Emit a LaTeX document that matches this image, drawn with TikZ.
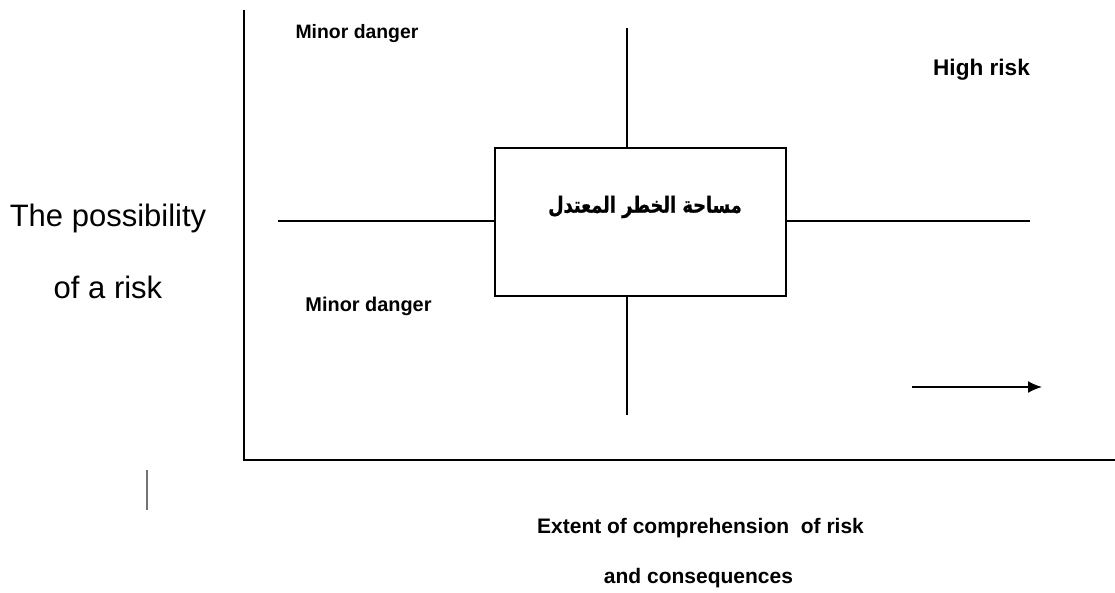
\documentclass[tikz,border=0pt]{standalone}
\usepackage{fontspec}
\usetikzlibrary{arrows.meta}
\setmainfont{Liberation Sans}
\newfontfamily\boldsans{Liberation Sans Bold}
\newfontfamily\arabicfont[Script=Arabic,FakeBold=1]{DejaVu Sans Bold}
\TeXXeTstate=1
\begin{document}
\begin{tikzpicture}[x=1pt,y=-1pt,
  ln/.style={line width=1.8pt,black},
  lbl/.style={inner sep=0pt,anchor=base},
]
\useasboundingbox (0,0) rectangle (1115,592);
% axes
\coordinate (ytop) at (244,10);
\coordinate (origin) at (244,460);
\coordinate (xend) at (1115,460);
\draw[ln] (ytop) -- (origin) -- (xend);
% box
\node[draw,line width=1.8pt,minimum width=291pt,minimum height=148pt,inner sep=0pt] (box) at (640.5,222) {};
\node[inner sep=0pt,anchor=center,font=\arabicfont\fontsize{17.8}{20}\selectfont] (ar) at (645,207) {\scalebox{1}[1.25]{\beginR مساحة الخطر المعتدل\endR}};
% cross lines
\coordinate (vt) at (627,28);
\coordinate (vb) at (627,415);
\coordinate (hl) at (278,221);
\coordinate (hr) at (1030,221);
\draw[ln] (vt) -- (vt |- box.north);
\draw[ln] (vb |- box.south) -- (vb);
\draw[ln] (hl) -- (box.west |- hl);
\draw[ln] (box.east |- hr) -- (hr);
% labels
\node[lbl,font=\boldsans\fontsize{19.4}{22}\selectfont] (md1) at (357,38) {Minor danger};
\node[lbl,font=\boldsans\fontsize{22.6}{26}\selectfont] (hr1) at (981.5,75) {High risk};
\node[lbl,font=\boldsans\fontsize{19.9}{22}\selectfont] (md2) at (368.5,311) {Minor danger};
\node[lbl,font=\fontsize{31}{36}\selectfont] (p1) at (108,226) {The possibility};
\node[lbl,font=\fontsize{31}{36}\selectfont] (p2) at (108,298) {of a risk};
\node[lbl,font=\boldsans\fontsize{21}{24}\selectfont] (e1) at (700.5,533) {Extent of comprehension\ \ of risk};
\node[lbl,font=\boldsans\fontsize{21}{24}\selectfont] (e2) at (698.5,583) {and consequences};
% arrow
\coordinate (a1) at (912,387);
\coordinate (a2) at (1042,387);
\draw[line width=1.8pt,-{Latex[length=14pt,width=12pt]}] (a1) -- (a2);
% small mark
\coordinate (m1) at (147,470);
\coordinate (m2) at (147,510);
\draw[line width=1.2pt,black!55] (m1) -- (m2);
\end{tikzpicture}
\end{document}
